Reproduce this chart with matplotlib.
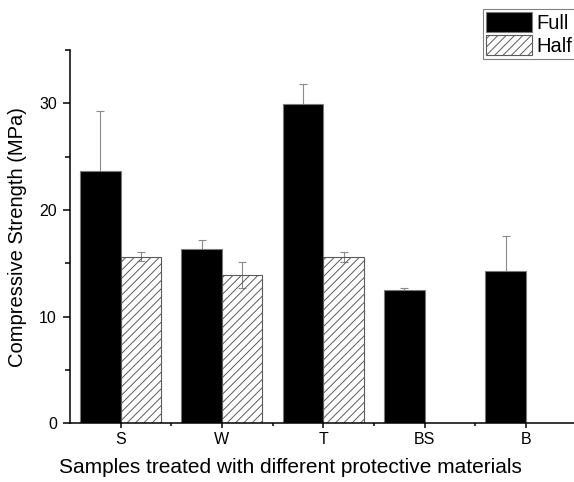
import numpy as np
import matplotlib
matplotlib.use("Agg")
import matplotlib.pyplot as plt
from matplotlib.ticker import MultipleLocator, FixedLocator

plt.rcParams['font.family'] = ['Liberation Sans', 'DejaVu Sans']
plt.rcParams['hatch.linewidth'] = 0.7

# data
categories = ["S", "W", "T", "BS", "B"]
full = [23.7, 16.3, 29.9, 12.5, 14.3]
full_err = [5.6, 0.85, 1.9, 0.15, 3.3]
half_cats = ["S", "W", "T"]
half = [15.6, 13.9, 15.55]
half_err = [0.42, 1.25, 0.47]

W, H = 574, 482
fig = plt.figure(figsize=(W / 100, H / 100), dpi=100)
# axis frame in pixels: left 70, right 576.5 (cropped), top 50, bottom 423.3
ax = fig.add_axes([70 / W, (H - 423.3) / H, 506.5 / W, 373.3 / H])

x = np.arange(len(categories))
xh = np.array([categories.index(c) for c in half_cats])
bw = 0.4
err_kw = dict(ecolor="#8a8a8a", elinewidth=0.8, capsize=3, capthick=0.8)

ax.errorbar(x - bw / 2, full, yerr=full_err, fmt="none", zorder=1, **err_kw)
ax.errorbar(xh + bw / 2, half, yerr=half_err, fmt="none", zorder=1, **err_kw)
ax.bar(x - bw / 2, full, width=bw, color="black", edgecolor="#7a7a7a",
       linewidth=0.8, zorder=2, label="Full")
ax.bar(xh + bw / 2, half, width=bw, facecolor="none", edgecolor="#5a5a5a",
       hatch="////", linewidth=0.8, zorder=2, label="Half")

ax.set_xlim(-0.5, 4.5)
ax.set_ylim(0, 35)
ax.set_xticks(x)
ax.set_xticklabels(categories)
ax.xaxis.set_minor_locator(FixedLocator(x[:-1] + 0.5))
ax.yaxis.set_major_locator(MultipleLocator(10))
ax.yaxis.set_minor_locator(MultipleLocator(5))

for side in ["top", "right"]:
    ax.spines[side].set_visible(False)
for side in ["left", "bottom"]:
    ax.spines[side].set_linewidth(1.1)

ax.tick_params(axis="y", which="major", direction="out", length=5, width=1.1,
               labelsize=11.5, pad=4.5)
ax.tick_params(axis="y", which="minor", direction="out", length=3.5, width=1.1)
ax.tick_params(axis="x", which="major", direction="out", length=3.6, width=1.1,
               labelsize=11.5, pad=3)
ax.tick_params(axis="x", which="minor", direction="out", length=2.4, width=1.1)

ax.set_xlabel("Samples treated with different protective materials", fontsize=15)
ax.set_ylabel("Compressive Strength (MPa)", fontsize=14.5)
ax.xaxis.set_label_coords((290 - 70) / 506.5, -0.118)
ax.xaxis.label.set_va("center")
ax.yaxis.set_label_coords((18 - 70) / 506.5, 0.5)
ax.yaxis.label.set_va("center")

leg = fig.legend(loc="upper left", bbox_to_anchor=(482.7 / W, 1 - 9.3 / H),
                 bbox_transform=fig.transFigure, fontsize=14.5, frameon=True,
                 fancybox=False, framealpha=1, borderpad=0.15, borderaxespad=0,
                 handlelength=2.28, handleheight=1.1, handletextpad=0.25,
                 labelspacing=0.13)
leg.get_frame().set_edgecolor("#808080")
leg.get_frame().set_linewidth(0.8)

fig.savefig("out.png", dpi=100)
